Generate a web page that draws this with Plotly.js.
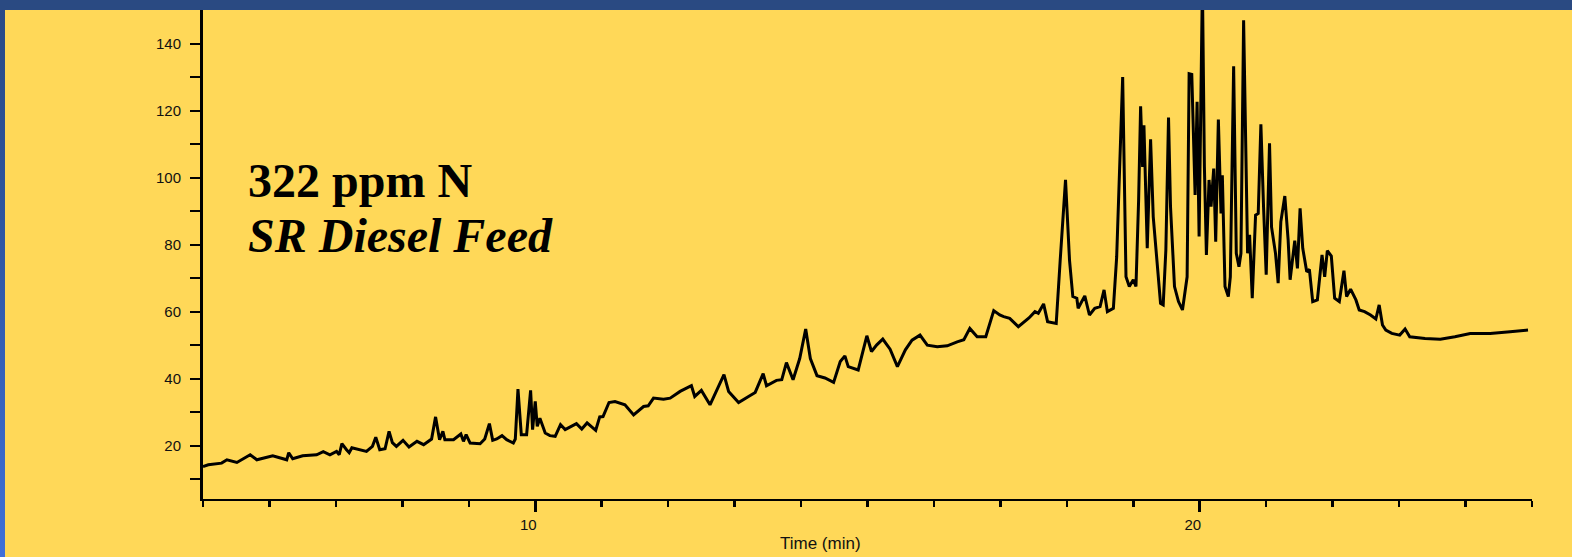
<!DOCTYPE html>
<html>
<head>
<meta charset="utf-8">
<script src="https://cdn.plot.ly/plotly-3.0.1.min.js"></script>
<style>
  html, body { margin: 0; padding: 0; width: 1572px; height: 557px; overflow: hidden; }
  body { background: linear-gradient(to bottom, #2a4a84 0%, #2f55a0 40%, #4070d8 100%); position: relative; }
  #topbar { position: absolute; left: 0; top: 0; width: 1572px; height: 10px; background: #2a4a82; }
  #chart { position: absolute; left: 5px; top: 10px; width: 1567px; height: 547px; }
</style>
</head>
<body>
<div id="topbar"></div>
<div id="chart"></div>
<script>
// Retention time (min)
const timeMin = [
  5.00, 5.08, 5.28, 5.36, 5.51, 5.71, 5.81, 6.05, 6.26, 6.29,
  6.35, 6.50, 6.71, 6.81, 6.91, 7.01, 7.05, 7.09, 7.16, 7.20,
  7.24, 7.36, 7.46, 7.55, 7.60, 7.66, 7.74, 7.80, 7.85, 7.91,
  8.01, 8.10, 8.22, 8.32, 8.44, 8.50, 8.56, 8.61, 8.64, 8.77,
  8.88, 8.92, 8.96, 9.02, 9.17, 9.24, 9.31, 9.36, 9.42, 9.50,
  9.57, 9.67, 9.70, 9.74, 9.79, 9.87, 9.93, 9.96, 10.00, 10.03,
  10.07, 10.15, 10.22, 10.30, 10.38, 10.45, 10.62, 10.70, 10.78, 10.91,
  10.97, 11.02, 11.11, 11.20, 11.35, 11.48, 11.63, 11.70, 11.78, 11.93,
  12.03, 12.18, 12.35, 12.40, 12.50, 12.63, 12.75, 12.84, 12.91, 13.06,
  13.21, 13.31, 13.43, 13.48, 13.63, 13.71, 13.78, 13.88, 13.98, 14.07,
  14.14, 14.24, 14.36, 14.49, 14.59, 14.66, 14.71, 14.86, 14.99, 15.06,
  15.14, 15.23, 15.34, 15.45, 15.57, 15.67, 15.79, 15.90, 16.05, 16.20,
  16.35, 16.45, 16.54, 16.65, 16.78, 16.90,
  16.99, 17.05, 17.14, 17.27, 17.43, 17.52, 17.57, 17.65, 17.71, 17.84,
  17.90, 17.98, 18.04, 18.09, 18.15, 18.17, 18.27, 18.34, 18.42, 18.50,
  18.56, 18.61, 18.70, 18.75, 18.84, 18.89, 18.94, 19.00, 19.04, 19.08,
  19.11, 19.14, 19.16, 19.21, 19.26, 19.30, 19.41, 19.45, 19.49, 19.53,
  19.56, 19.62, 19.68, 19.74, 19.81, 19.84, 19.88, 19.93, 19.96, 19.99,
  20.04, 20.07, 20.10, 20.14, 20.17, 20.21, 20.24, 20.28, 20.32, 20.34,
  20.38, 20.43, 20.46, 20.51, 20.55, 20.59, 20.62, 20.66, 20.72, 20.75,
  20.79, 20.84, 20.88, 20.92, 20.96, 21.00, 21.05, 21.08, 21.14, 21.18,
  21.22, 21.28, 21.33, 21.36, 21.43, 21.47, 21.51, 21.55, 21.61, 21.65,
  21.70, 21.77, 21.84, 21.88, 21.92, 21.98, 22.03, 22.10, 22.17, 22.21,
  22.27, 22.35, 22.40, 22.48, 22.57, 22.65, 22.70, 22.75, 22.80, 22.89,
  23.01, 23.09, 23.16, 23.39, 23.62, 23.84, 24.07, 24.37, 24.67, 24.94
];
// Detector signal
const signal = [
  13.8, 14.3, 14.8, 15.8, 15.0, 17.3, 15.8, 17.0, 15.8, 17.9,
  16.1, 17.0, 17.3, 18.2, 17.3, 18.3, 17.3, 20.6, 18.8, 17.9,
  19.4, 18.8, 18.3, 19.8, 22.5, 18.8, 19.1, 24.3, 20.9, 19.8,
  21.6, 19.6, 21.3, 20.3, 22.0, 28.6, 21.8, 24.3, 21.8, 21.8,
  23.5, 21.3, 23.3, 20.8, 20.6, 22.0, 26.6, 21.6, 22.0, 23.0,
  21.8, 20.8, 22.0, 36.9, 23.3, 23.3, 36.5, 24.8, 33.2, 25.8,
  28.2, 23.8, 23.0, 22.8, 26.3, 24.8, 26.6, 25.0, 26.8, 24.6,
  28.6, 28.7, 32.9, 33.2, 32.2, 29.2, 31.7, 31.9, 34.2, 33.9,
  34.2, 36.2, 37.9, 34.7, 36.5, 32.2, 37.2, 41.2, 36.2, 32.9,
  34.7, 35.9, 41.5, 37.9, 39.5, 39.7, 44.8, 39.7, 46.0, 54.8,
  46.0, 40.9, 40.2, 38.9, 45.1, 46.8, 43.6, 42.6, 52.8, 48.1,
  50.1, 51.8, 48.8, 43.6, 48.6, 51.5, 53.0, 50.0, 49.5, 49.8,
  51.0, 51.6, 55.0, 52.5, 52.5, 60.3,
  59.0, 58.5, 58.0, 55.5, 58.1, 60.0, 59.5, 62.3, 57.0, 56.5,
  75.4, 99.3, 75.4, 64.5, 64.0, 61.0, 64.7, 59.0, 61.0, 61.5,
  66.5, 60.0, 61.0, 76.4, 130.0, 70.4, 67.5, 69.5, 67.5, 93.3,
  121.3, 103.2, 115.6, 78.9, 111.4, 88.3, 62.5, 62.0, 78.4, 117.9,
  91.3, 67.5, 63.0, 60.5, 70.4, 131.0, 130.8, 94.8, 122.6, 82.4,
  158.0, 103.2, 76.9, 99.3, 91.3, 102.7, 80.9, 117.3, 89.3, 100.7,
  67.5, 64.5, 70.4, 133.2, 77.4, 73.4, 77.4, 146.9, 77.4, 82.9,
  64.0, 88.8, 89.3, 115.9, 91.3, 71.0, 110.2, 85.3, 77.4, 68.5,
  86.8, 94.5, 81.4, 69.5, 81.2, 72.9, 90.8, 78.9, 71.9, 72.6,
  63.0, 63.5, 76.9, 70.4, 78.2, 76.6, 64.0, 63.0, 72.2, 64.5,
  66.7, 63.5, 60.5, 60.0, 59.0, 57.8, 62.0, 56.0, 54.5, 53.5,
  53.0, 54.8, 52.5, 52.0, 51.8, 52.5, 53.5, 53.5, 54.0, 54.5
];
const xTickVals = [10, 20];
const xTickText = ['10', '20'];
const yTickVals = [10, 20, 30, 40, 50, 60, 70, 80, 90, 100, 110, 120, 130, 140];
const yTickText = ['', '20', '', '40', '', '60', '', '80', '', '100', '', '120', '', '140'];
const labelLine1 = '322 ppm N';
const labelLine2 = 'SR Diesel Feed';
const xTitle = 'Time (min)';

const trace = {
  x: timeMin, y: signal, type: 'scatter', mode: 'lines',
  line: { color: '#000000', width: 3 }, hoverinfo: 'skip'
};

const layout = {
  width: 1567, height: 547,
  paper_bgcolor: '#ffd858', plot_bgcolor: '#ffd858',
  margin: { l: 198, r: 40, t: 0, b: 58 },
  showlegend: false,
  font: { family: 'Liberation Sans, Arial, sans-serif', color: '#111111' },
  xaxis: {
    range: [5, 25], showgrid: false, zeroline: false,
    showline: true, linecolor: '#000000', linewidth: 2,
    tickmode: 'array', tickvals: xTickVals, ticktext: xTickText,
    ticks: 'outside', ticklen: 11, tickwidth: 3, tickcolor: '#000000',
    ticklabelshift: -7,
    tickfont: { size: 15, color: '#111111' },
    minor: { tickmode: 'linear', tick0: 5, dtick: 1, ticks: 'outside', ticklen: 6, tickwidth: 2.5, tickcolor: '#000000', showgrid: false }
  },
  yaxis: {
    range: [4.1, 150], showgrid: false, zeroline: false,
    showline: true, linecolor: '#000000', linewidth: 3,
    tickmode: 'array', tickvals: yTickVals, ticktext: yTickText,
    ticks: 'outside', ticklen: 10, tickwidth: 2, tickcolor: '#000000',
    ticklabelstandoff: 6,
    tickfont: { size: 15, color: '#111111' }
  },
  annotations: [
    { xref: 'paper', yref: 'paper', x: 0.0325, y: 0.652, xanchor: 'left', yanchor: 'middle',
      text: '<b>' + labelLine1 + '</b>', showarrow: false,
      font: { family: 'Liberation Serif, Times New Roman, serif', size: 48, color: '#000000' } },
    { xref: 'paper', yref: 'paper', x: 0.0325, y: 0.539, xanchor: 'left', yanchor: 'middle',
      text: '<b><i>' + labelLine2 + '</i></b>', showarrow: false,
      font: { family: 'Liberation Serif, Times New Roman, serif', size: 48, color: '#000000' } },
    { xref: 'paper', yref: 'paper', x: 0.465, y: 0, xanchor: 'center', yanchor: 'middle', yshift: -44,
      text: xTitle, showarrow: false,
      font: { family: 'Liberation Sans, Arial, sans-serif', size: 17, color: '#111111' } }
  ]
};

Plotly.newPlot('chart', [trace], layout, { displayModeBar: false, staticPlot: true });
</script>
</body>
</html>
